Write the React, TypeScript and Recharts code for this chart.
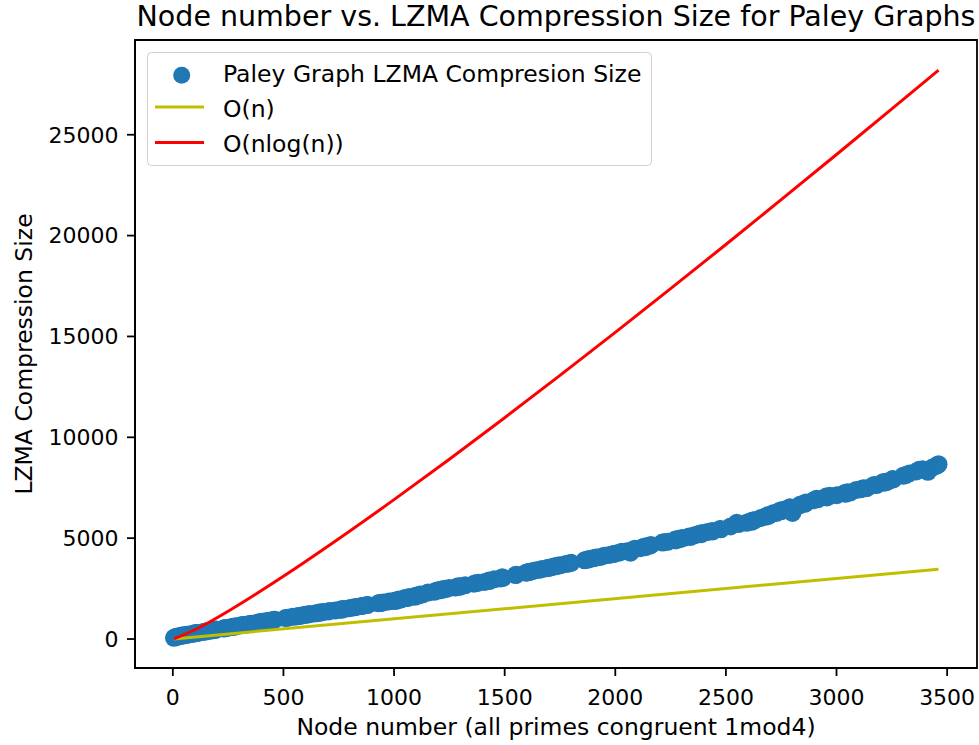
import {
  ComposedChart,
  Scatter,
  Line,
  XAxis,
  YAxis,
  ReferenceArea,
  Legend,
} from 'recharts'

// primes congruent 1 mod 4 (node counts)
const nodes = [
  5, 13, 17, 29, 37, 41, 53, 61, 73, 89, 97,
  101, 109, 113, 137, 149, 157, 173, 181, 193, 197,
  229, 233, 241, 257, 269, 277, 281, 293,
  313, 317, 337, 349, 353, 373, 389, 397,
  401, 409, 421, 433, 449, 457, 461,
  509, 521, 541, 557, 569, 577, 593,
  601, 613, 617, 641, 653, 661, 673, 677,
  701, 709, 733, 757, 761, 769, 773, 797,
  809, 821, 829, 853, 857, 877, 881,
  929, 937, 941, 953, 977, 997,
  1009, 1013, 1021, 1033, 1049, 1061, 1069, 1093, 1097,
  1109, 1117, 1129, 1153, 1181, 1193,
  1201, 1213, 1217, 1229, 1237, 1249, 1277, 1289, 1297,
  1301, 1321, 1361, 1373, 1381,
  1409, 1429, 1433, 1453, 1481, 1489, 1493,
  1549, 1553, 1597,
  1601, 1609, 1613, 1621, 1637, 1657, 1669, 1693, 1697,
  1709, 1721, 1733, 1741, 1753, 1777, 1789,
  1801, 1861, 1873, 1877, 1889,
  1901, 1913, 1933, 1949, 1973, 1993, 1997,
  2017, 2029, 2053, 2069, 2081, 2089,
  2113, 2129, 2137, 2141, 2153, 2161,
  2213, 2221, 2237, 2269, 2273, 2281, 2293, 2297,
  2309, 2333, 2341, 2357, 2377, 2381, 2389, 2393,
  2417, 2437, 2441, 2473, 2477,
  2521, 2549, 2557, 2593,
  2609, 2617, 2621, 2633, 2657, 2677, 2689, 2693,
  2713, 2729, 2741, 2749, 2753, 2777, 2789, 2797,
  2801, 2833, 2837, 2857, 2861, 2897,
  2909, 2917, 2953, 2957, 2969,
  3001, 3037, 3041, 3049, 3061, 3089,
  3109, 3121, 3137, 3169, 3181,
  3209, 3217, 3221, 3229, 3253, 3257,
  3301, 3313, 3329, 3361, 3373, 3389,
  3413, 3433, 3449, 3457, 3461,
]

// LZMA compressed size (bytes)
const lzmaSize = [
  60, 100, 110, 135, 160, 170, 185, 210, 230, 250, 280,
  285, 300, 300, 350, 370, 395, 420, 440, 450, 475,
  520, 530, 550, 575, 600, 625, 610, 650,
  690, 690, 720, 740, 755, 785, 820, 830,
  855, 850, 880, 905, 930, 950, 955,
  1040, 1060, 1100, 1110, 1140, 1150, 1190,
  1200, 1230, 1225, 1270, 1280, 1310, 1320, 1340,
  1360, 1390, 1410, 1460, 1450, 1490, 1480, 1530,
  1550, 1570, 1590, 1640, 1640, 1690, 1690,
  1770, 1780, 1800, 1810, 1860, 1880,
  1910, 1900, 1960, 1960, 2030, 2030, 2080, 2090, 2150,
  2150, 2210, 2210, 2300, 2340, 2410,
  2400, 2450, 2430, 2490, 2480, 2530, 2550, 2620, 2590,
  2620, 2660, 2740, 2780, 2790,
  2830, 2900, 2880, 2960, 3000, 3060, 3030,
  3170, 3190, 3290,
  3300, 3320, 3340, 3350, 3400, 3430, 3470, 3510, 3530,
  3550, 3590, 3610, 3640, 3660, 3720, 3740,
  3780, 3900, 3940, 3940, 3980,
  4000, 4040, 4070, 4130, 4170, 4220, 4230,
  4280, 4330, 4350, 4280, 4440, 4470,
  4500, 4580, 4550, 4600, 4620, 4660,
  4780, 4800, 4820, 4920, 4890, 4960, 4950, 5000,
  5010, 5080, 5060, 5140, 5190, 5220, 5200, 5260,
  5300, 5360, 5330, 5450, 5440,
  5580, 5760, 5700, 5760,
  5830, 5810, 5880, 5900, 6000, 6060, 6130, 6100,
  6230, 6250, 6350, 6330, 6400, 6460, 6530, 6480,
  6250, 6620, 6670, 6700, 6770, 6880,
  6950, 6930, 7060, 7020, 7100,
  7130, 7240, 7200, 7270, 7260, 7390,
  7420, 7480, 7480, 7640, 7630,
  7770, 7750, 7800, 7790, 7930, 7910,
  8090, 8130, 8210, 8310, 8390, 8420,
  8290, 8500, 8580, 8620, 8670,
]

// reference curves
const linearX = [5, 3461]
const linearY = [5, 3461]
const nlognX = [5, 100, 250, 500, 750, 1000, 1250, 1500, 1750, 2000, 2250, 2500, 2750, 3000, 3250, 3461]
const nlognY = [8, 460, 1380, 3110, 4970, 6910, 8910, 10970, 13070, 15200, 17370, 19560, 21780, 24020, 26280, 28200]

const xTicks = [0, 500, 1000, 1500, 2000, 2500, 3000, 3500]
const yTicks = [0, 5000, 10000, 15000, 20000, 25000]

const scatterData = nodes.map((x, i) => ({ x, y: lzmaSize[i] }))
const linearData = linearX.map((x, i) => ({ x, y: linearY[i] }))
const nlognData = nlognX.map((x, i) => ({ x, y: nlognY[i] }))

const FONT = 'DejaVu Sans'
const BLUE = '#1f77b4'
const OLIVE = '#bfbf00'
const RED = '#ff0000'

const X_DOMAIN: [number, number] = [-171, 3635]
const Y_DOMAIN: [number, number] = [-1437, 29697]

function LegendBox() {
  return (
    <svg width={506} height={115} style={{ display: 'block' }}>
      <rect x={0.5} y={0.5} width={504} height={113} rx={4} fill="#fff" fillOpacity={0.8} stroke="#d0d0d0" />
      <circle cx={34.7} cy={23.3} r={8.5} fill={BLUE} />
      <line x1={8} x2={57} y1={55} y2={55} stroke={OLIVE} strokeWidth={3} />
      <line x1={8} x2={57} y1={90.6} y2={90.6} stroke={RED} strokeWidth={3} />
      <g fontFamily={FONT} fontSize={23.5} fill="#000">
        <text x={76} y={29.5}>Paley Graph LZMA Compresion Size</text>
        <text x={76} y={64.5}>O(n)</text>
        <text x={76} y={99.5}>O(nlog(n))</text>
      </g>
    </svg>
  )
}

export default function App() {
  const tickStyle = { fontSize: 22, fill: '#000', fontFamily: FONT }
  return (
    <div style={{ position: 'absolute', left: 0, top: 0, width: 979, height: 745, background: '#fff' }}>
      <div
        style={{
          position: 'absolute',
          left: 135,
          width: 842,
          top: 0,
          textAlign: 'center',
          fontFamily: FONT,
          fontSize: 28.5,
          lineHeight: '33px',
          color: '#000',
          whiteSpace: 'nowrap',
        }}
      >
        Node number vs. LZMA Compression Size for Paley Graphs
      </div>
      <ComposedChart width={979} height={745} margin={{ top: 40, right: 2, bottom: 0, left: 0 }}>
        <XAxis
          type="number"
          dataKey="x"
          domain={X_DOMAIN}
          ticks={xTicks}
          allowDataOverflow
          height={77}
          tick={tickStyle}
          tickSize={8}
          tickMargin={13}
          stroke="#000"
          strokeWidth={1.8}
          label={{ value: 'Node number (all primes congruent 1mod4)', position: 'center', dy: 20.5, fontSize: 23.5, fill: '#000', fontFamily: FONT }}
        />
        <YAxis
          type="number"
          dataKey="y"
          domain={Y_DOMAIN}
          ticks={yTicks}
          allowDataOverflow
          width={135}
          tick={tickStyle}
          tickSize={8}
          tickMargin={8.5}
          stroke="#000"
          strokeWidth={1.8}
          label={{ value: 'LZMA Compression Size', angle: -90, position: 'center', dx: -44, fontSize: 23.5, fill: '#000', fontFamily: FONT }}
        />
        <Scatter
          data={scatterData}
          dataKey="y"
          fill={BLUE}
          isAnimationActive={false}
          shape={(p: any) => <circle cx={p.cx} cy={p.cy} r={9} fill={BLUE} />}
        />
        <Line data={linearData} dataKey="y" type="linear" stroke={OLIVE} strokeWidth={3} dot={false} isAnimationActive={false} zIndex={700} />
        <Line data={nlognData} dataKey="y" type="monotone" stroke={RED} strokeWidth={3} dot={false} isAnimationActive={false} zIndex={710} />
        <ReferenceArea x1={X_DOMAIN[0]} x2={X_DOMAIN[1]} y1={Y_DOMAIN[0]} y2={Y_DOMAIN[1]} fill="none" stroke="#000" strokeWidth={1.8} ifOverflow="visible" zIndex={720} />
        <Legend
          layout="vertical"
          align="center"
          verticalAlign="middle"
          content={() => <LegendBox />}
          wrapperStyle={{ position: 'absolute', left: 147, top: 52, width: 506, height: 115 }}
        />
      </ComposedChart>
    </div>
  )
}
